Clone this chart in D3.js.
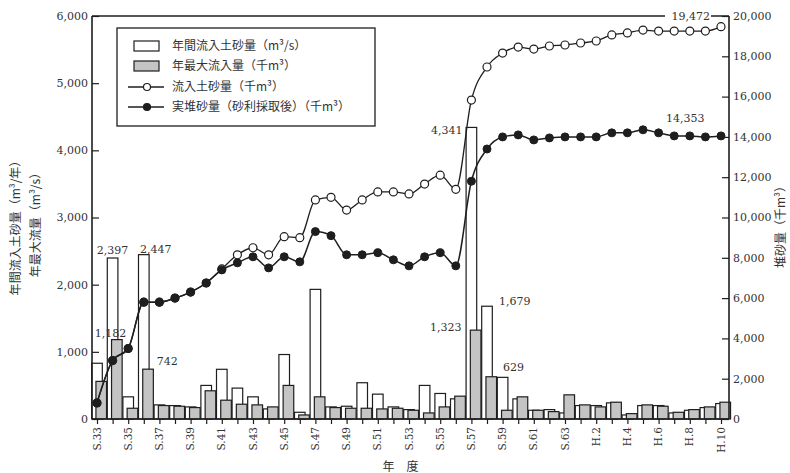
<!DOCTYPE html>
<html><head><meta charset="utf-8">
<script src="https://cdn.jsdelivr.net/npm/d3@7"></script>
<style>
body{margin:0;background:#fff;}
svg{display:block;}
</style></head><body>
<svg id="c" width="790" height="473"></svg>
<script>
const categories = ["S.33","S.34","S.35","S.36","S.37","S.38","S.39","S.40","S.41","S.42",
  "S.43","S.44","S.45","S.46","S.47","S.48","S.49","S.50","S.51","S.52",
  "S.53","S.54","S.55","S.56","S.57","S.58","S.59","S.60","S.61","S.62","S.63",
  "H.1","H.2","H.3","H.4","H.5","H.6","H.7","H.8","H.9","H.10"];
// 年間流入土砂量 (white bars, left axis)
const annualInflow = [830,2397,330,2447,210,200,180,500,740,460,
  330,150,960,100,1930,180,190,540,370,180,
  140,500,380,300,4341,1679,620,300,130,140,90,
  200,200,240,60,200,200,90,130,170,230];
// 年最大流入量 (grey bars, left axis)
const maxInflow = [560,1182,160,742,200,190,170,420,280,220,
  210,180,500,60,330,170,160,160,150,160,
  130,90,180,340,1323,629,130,330,130,110,360,
  210,180,250,80,210,190,100,140,180,250];
// 流入土砂量 (open circles, right axis)
const inflowSediment = [800,2900,3500,5800,5800,6000,6300,6750,7450,8150,
  8500,8150,9050,9000,10870,11000,10370,10870,11270,11270,
  11170,11660,12100,11400,15830,17470,18160,18460,18360,18510,18560,
  18660,18760,19060,19160,19300,19250,19250,19250,19250,19472];
// 実堆砂量（砂利採取後） (filled circles, right axis)
const actualSediment = [800,2900,3500,5800,5800,6000,6300,6750,7400,7750,
  8050,7500,8050,7800,9300,9100,8150,8150,8250,7900,
  7600,8050,8250,7600,11800,13400,14000,14100,13850,13950,14000,
  14000,14000,14200,14200,14353,14200,14050,14050,14000,14050];
const leftTicks = [0,1000,2000,3000,4000,5000,6000];
const rightTicks = [0,2000,4000,6000,8000,10000,12000,14000,16000,18000,20000];
const xTickLabels = categories.filter((d,i)=>i%2===0);

const svg = d3.select("#c");
const L = 92, R = 729, T = 16, B = 419;
const ink = "#1e1e1e";
const numFont = "'DejaVu Serif', 'Liberation Serif', serif";
const jpFont = "'Noto Sans CJK JP', 'Noto Sans', sans-serif";

const x = d3.scalePoint().domain(categories).range([L+5, R-8]);
const yL = d3.scaleLinear().domain([0,6000]).range([B,T]);
const yR = d3.scaleLinear().domain([0,20000]).range([B,T]);
const step = x.step();
const bw = step*0.68;

// bars
const g = svg.append("g");
g.selectAll("rect.w").data(categories).join("rect")
  .attr("x", d=>x(d)-bw*0.5).attr("width", bw)
  .attr("y", (d,i)=>yL(annualInflow[i])).attr("height",(d,i)=>B-yL(annualInflow[i]))
  .attr("fill","#fff").attr("stroke",ink).attr("stroke-width",1.2);
g.selectAll("rect.gr").data(categories).join("rect")
  .attr("x", d=>x(d)-bw*0.1).attr("width", bw)
  .attr("y", (d,i)=>yL(maxInflow[i])).attr("height",(d,i)=>B-yL(maxInflow[i]))
  .attr("fill","#c4c4c4").attr("stroke",ink).attr("stroke-width",1.2);

// lines
const lineOpen = d3.line().x((d,i)=>x(categories[i])).y(d=>yR(d)).curve(d3.curveMonotoneX);
svg.append("path").attr("d", lineOpen(inflowSediment)).attr("fill","none").attr("stroke",ink).attr("stroke-width",1.3);
svg.selectAll("circle.o").data(inflowSediment).join("circle")
  .attr("cx",(d,i)=>x(categories[i])).attr("cy",d=>yR(d)).attr("r",4)
  .attr("fill","#fff").attr("stroke",ink).attr("stroke-width",1.2);
svg.append("path").attr("d", lineOpen(actualSediment)).attr("fill","none").attr("stroke",ink).attr("stroke-width",1.5);
svg.selectAll("circle.f").data(actualSediment).join("circle")
  .attr("cx",(d,i)=>x(categories[i])).attr("cy",d=>yR(d)).attr("r",4)
  .attr("fill",ink).attr("stroke",ink).attr("stroke-width",1);

// frame & axes
svg.append("line").attr("x1",L).attr("x2",R).attr("y1",T).attr("y2",T).attr("stroke",ink).attr("stroke-width",1.5);
svg.append("line").attr("x1",L).attr("x2",R).attr("y1",B).attr("y2",B).attr("stroke",ink).attr("stroke-width",1.5);
svg.append("line").attr("x1",L).attr("x2",L).attr("y1",T).attr("y2",B).attr("stroke",ink).attr("stroke-width",1.6);
svg.append("line").attr("x1",R).attr("x2",R).attr("y1",T).attr("y2",B).attr("stroke",ink).attr("stroke-width",1.6);

const leftAxis = svg.append("g").attr("transform",`translate(${L},0)`)
  .call(d3.axisRight(yL).tickValues(leftTicks).tickSize(7).tickFormat(""));
leftAxis.select(".domain").remove();
leftAxis.selectAll("line").attr("stroke",ink).attr("stroke-width",1.2);
svg.selectAll("text.lt").data(leftTicks).join("text")
  .attr("x",L-4).attr("y",d=>yL(d)).attr("dy","0.35em").attr("text-anchor","end")
  .attr("font-family",numFont).attr("font-size",11).attr("fill","#333").text(d3.format(","));

const rightAxis = svg.append("g").attr("transform",`translate(${R},0)`)
  .call(d3.axisLeft(yR).tickValues(rightTicks).tickSize(7).tickFormat(""));
rightAxis.select(".domain").remove();
rightAxis.selectAll("line").attr("stroke",ink).attr("stroke-width",1.2);
svg.selectAll("text.rt").data(rightTicks).join("text")
  .attr("x",R+4).attr("y",d=>yR(d)).attr("dy","0.35em").attr("text-anchor","start")
  .attr("font-family",numFont).attr("font-size",11).attr("fill","#333").text(d3.format(","));

const bottomAxis = svg.append("g").attr("transform",`translate(0,${B})`)
  .call(d3.axisBottom(x).tickSize(5).tickFormat(""));
bottomAxis.select(".domain").remove();
bottomAxis.selectAll("line").attr("stroke",ink).attr("stroke-width",1.2);
svg.selectAll("text.xt").data(xTickLabels).join("text")
  .attr("transform",d=>`translate(${x(d)},${B+8}) rotate(-90)`)
  .attr("dy","0.35em").attr("text-anchor","end")
  .attr("font-family",numFont).attr("font-size",10.5).attr("fill","#333").text(d=>d);

// axis titles
svg.append("text").attr("transform",`translate(16,225) rotate(-90)`).attr("text-anchor","middle").attr("dy","0.35em")
  .attr("font-family",jpFont).attr("font-size",12).attr("fill","#333").text("年間流入土砂量（m³/年）");
svg.append("text").attr("transform",`translate(36,222) rotate(-90)`).attr("text-anchor","middle").attr("dy","0.35em")
  .attr("font-family",jpFont).attr("font-size",12).attr("fill","#333").text("年最大流量（m³/s）");
svg.append("text").attr("transform",`translate(781,224) rotate(-90)`).attr("text-anchor","middle").attr("dy","0.35em")
  .attr("font-family",jpFont).attr("font-size",12).attr("fill","#333").text("堆砂量（千m³）");
svg.append("text").attr("x",(L+R)/2+ -10).attr("y",471).attr("text-anchor","middle")
  .attr("font-family",jpFont).attr("font-size",12).attr("fill","#333").text("年　度");

// value annotations
const idx = c => categories.indexOf(c);
function ann(txt, px, py, anchor){
  svg.append("text").attr("x",px).attr("y",py).attr("text-anchor",anchor)
    .attr("font-family",numFont).attr("font-size",11).attr("fill","#333").text(txt);
}
const fmt = d3.format(",");
ann(fmt(annualInflow[idx("S.34")]), x("S.34"), yL(annualInflow[idx("S.34")])-4, "middle");
ann(fmt(annualInflow[idx("S.36")]), x("S.36")+12, yL(annualInflow[idx("S.36")])-2, "middle");
ann(fmt(maxInflow[idx("S.34")]), x("S.34")-2, yL(maxInflow[idx("S.34")])-3, "middle");
ann(fmt(maxInflow[idx("S.36")]), x("S.36")+13, yL(maxInflow[idx("S.36")])-4, "start");
ann(fmt(annualInflow[idx("S.57")]), x("S.57")-9, yL(annualInflow[idx("S.57")])+7, "end");
ann(fmt(maxInflow[idx("S.57")]), x("S.57")-10, yL(maxInflow[idx("S.57")])+1, "end");
ann(fmt(annualInflow[idx("S.58")]), x("S.58")+12, yL(annualInflow[idx("S.58")])-1, "start");
ann(fmt(maxInflow[idx("S.58")]), x("S.58")+16, yL(maxInflow[idx("S.58")])-6, "start");
ann(fmt(actualSediment[idx("H.5")]), x("H.5")+23, yR(actualSediment[idx("H.5")])-8, "start");
// top label on frame
const lastI = categories.length-1;
svg.append("rect").attr("x",x(categories[lastI])-56).attr("y",T-6).attr("width",46).attr("height",12).attr("fill","#fff");
ann(fmt(inflowSediment[lastI]), x(categories[lastI])-11, T+4, "end");

// legend
const lg = svg.append("g");
lg.append("rect").attr("x",117).attr("y",28).attr("width",258).attr("height",98)
  .attr("fill","#fff").attr("stroke",ink).attr("stroke-width",1.3);
const items = [
  {t:"年間流入土砂量（m³/s）", type:"wbar"},
  {t:"年最大流入量（千m³）", type:"gbar"},
  {t:"流入土砂量（千m³）", type:"open"},
  {t:"実堆砂量（砂利採取後）（千m³）", type:"fill"}];
const ly = [46,66,87,107];
items.forEach((it,i)=>{
  const yy = ly[i];
  if(it.type==="wbar"||it.type==="gbar"){
    lg.append("rect").attr("x",134).attr("y",yy-5).attr("width",25).attr("height",10)
      .attr("fill",it.type==="wbar"?"#fff":"#c4c4c4").attr("stroke",ink).attr("stroke-width",1.2);
  } else {
    lg.append("line").attr("x1",128).attr("x2",164).attr("y1",yy).attr("y2",yy).attr("stroke",ink).attr("stroke-width",1.3);
    lg.append("circle").attr("cx",147).attr("cy",yy).attr("r",3.5)
      .attr("fill",it.type==="open"?"#fff":ink).attr("stroke",ink).attr("stroke-width",1.2);
  }
  lg.append("text").attr("x",172).attr("y",yy).attr("dy","0.35em")
    .attr("font-family",jpFont).attr("font-size",12).attr("fill","#333").text(it.t);
});
</script>
</body></html>
